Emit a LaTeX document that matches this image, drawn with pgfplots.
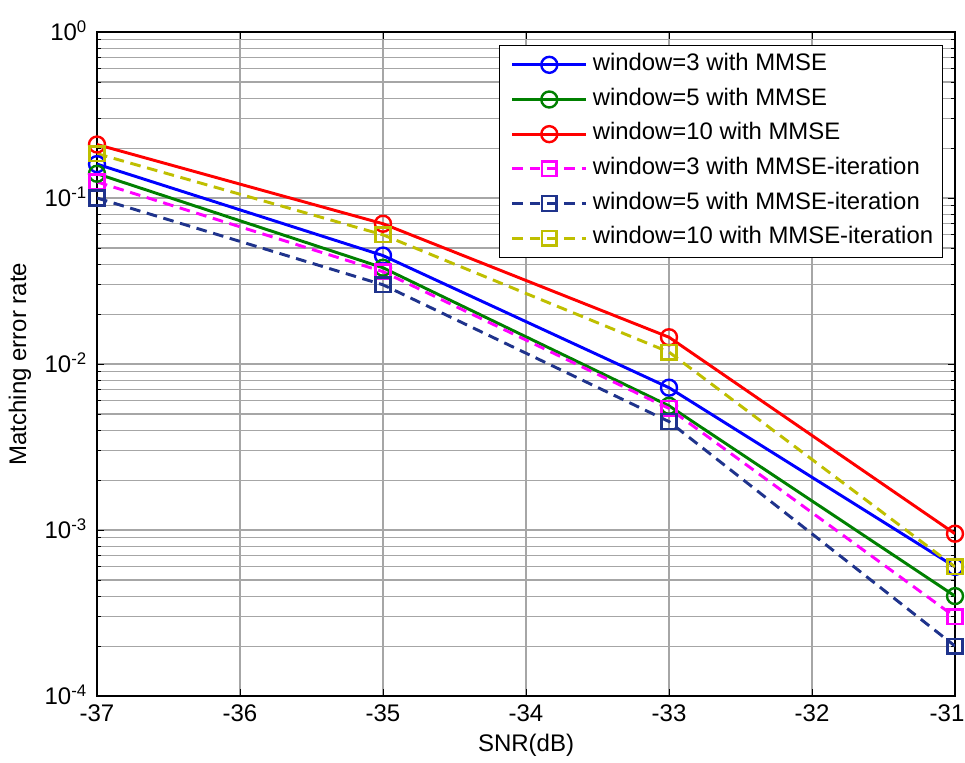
\documentclass[border=0pt]{standalone}
\usepackage{pgfplots}
\pgfplotsset{compat=1.18}
\usepackage{fontspec}
\setmainfont{Liberation Sans}
\definecolor{mblue}{rgb}{0,0,1}
\definecolor{mgreen}{rgb}{0,0.5,0}
\definecolor{mred}{rgb}{1,0,0}
\definecolor{mmag}{rgb}{1,0,1}
\definecolor{mnavy}{rgb}{0.12,0.2,0.55}
\definecolor{myel}{rgb}{0.75,0.75,0}
\begin{document}
\begin{tikzpicture}[font=\fontsize{18}{21}\selectfont]
\begin{axis}[
  name=ax,
  scale only axis,
  width=643.5pt, height=498pt,
  ymode=log,
  xmin=-37, xmax=-31,
  ymin=1e-4, ymax=1,
  xtick={-37,-36,-35,-34,-33,-32,-31},
  xticklabels={-37,-36,-35,-34,-33,-32,{-31\hspace*{12pt}}},
  ytick={1e-4,1e-3,1e-2,1e-1,1},
  yticklabels={10\textsuperscript{-4},10\textsuperscript{-3},10\textsuperscript{-2},10\textsuperscript{-1},10\textsuperscript{0}},
  xmajorgrids, ymajorgrids, yminorgrids,
  major grid style={black!35, line width=0.8pt},
  minor grid style={black!35, line width=0.8pt},
  tick align=inside,
  major tick length=5pt, minor tick length=3pt,
  tick style={black, line width=0.6pt},
  axis line style={line width=1.2pt},
  xticklabel style={yshift=-3pt},
  yticklabel style={anchor=base east, yshift=-6.5pt, xshift=-4pt},
  xlabel={SNR(dB)},
  ylabel={Matching error rate},
  xlabel style={at={(axis description cs:0.5,-0.0738)}, anchor=center},
  ylabel style={at={(axis description cs:-0.0897,0.5)}, anchor=center},
  legend cell align=left,
  legend style={at={(0.986,0.980)}, anchor=north east, draw=black, line width=0.8pt, fill=white,
    row sep=5.5pt, inner xsep=5pt, inner ysep=4pt,
    nodes={text height=12.5pt, text depth=4pt, inner sep=2pt, font=\fontsize{17.9}{21}\selectfont}},
  legend image code/.code={\path (-0.13cm,0cm) (2.01cm,0cm); \draw[mark repeat=2,mark phase=2] plot coordinates {(0cm,0cm) (0.97cm,0cm) (1.95cm,0cm)};},
]
\addplot[mblue, line width=2.2pt, mark=o, mark size=6pt, mark options={solid, line width=1.8pt}] coordinates {(-37,0.16) (-35,0.045) (-33,0.0072) (-31,0.0006)};
\addlegendentry{window=3 with MMSE}
\addplot[mgreen, line width=2.2pt, mark=o, mark size=6pt, mark options={solid, line width=1.8pt}] coordinates {(-37,0.14) (-35,0.038) (-33,0.0056) (-31,0.0004)};
\addlegendentry{window=5 with MMSE}
\addplot[mred, line width=2.2pt, mark=o, mark size=6pt, mark options={solid, line width=1.8pt}] coordinates {(-37,0.21) (-35,0.07) (-33,0.0145) (-31,0.00095)};
\addlegendentry{window=10 with MMSE}
\addplot[mmag, line width=2.2pt, dash pattern=on 8pt off 5pt, mark=square, mark size=5.5pt, mark options={solid, line width=1.8pt}] coordinates {(-37,0.125) (-35,0.036) (-33,0.0054) (-31,0.0003)};
\addlegendentry{window=3 with MMSE-iteration}
\addplot[mnavy, line width=2.2pt, dash pattern=on 8pt off 5pt, mark=square, mark size=5.5pt, mark options={solid, line width=1.8pt}] coordinates {(-37,0.1) (-35,0.03) (-33,0.0045) (-31,0.0002)};
\addlegendentry{window=5 with MMSE-iteration}
\addplot[myel, line width=2.2pt, dash pattern=on 8pt off 5pt, mark=square, mark size=5.5pt, mark options={solid, line width=1.8pt}] coordinates {(-37,0.185) (-35,0.06) (-33,0.0118) (-31,0.0006)};
\addlegendentry{window=10 with MMSE-iteration}
\end{axis}
\pgfresetboundingbox
\path ([shift={(-72.75pt,-49.5pt)}]ax.south west) rectangle ([shift={(7.5pt,24pt)}]ax.north east);
\end{tikzpicture}
\end{document}
